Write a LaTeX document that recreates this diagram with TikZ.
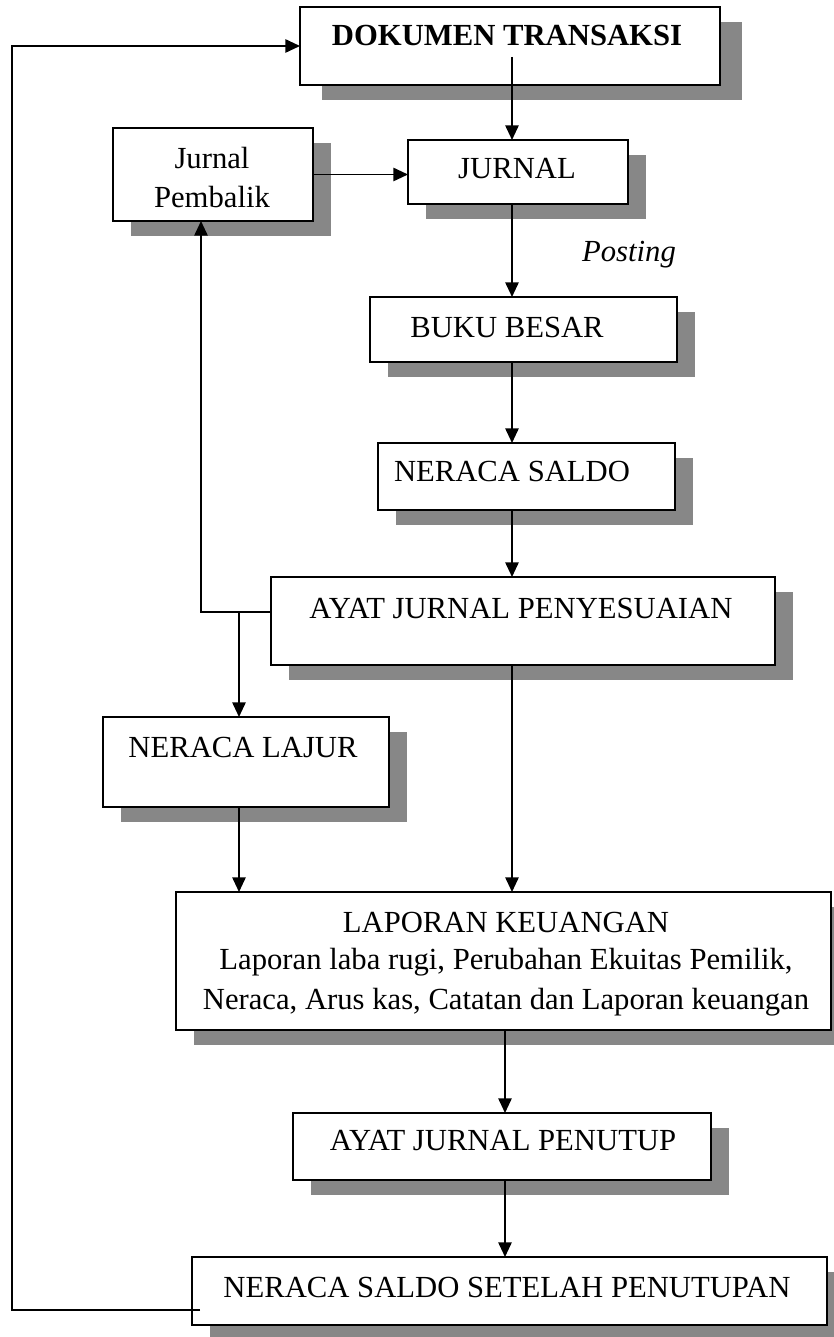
\documentclass[tikz,border=0pt]{standalone}
\usepackage{fontspec}
\setmainfont{Liberation Serif}
\usetikzlibrary{arrows.meta,shadows,calc}

\begin{document}
\begin{tikzpicture}[x=0.75pt,y=-0.75pt,
  box/.style={draw=black, line width=1.4pt, fill=white, anchor=north west,
              inner sep=0pt, outer sep=0pt},
  shade/.style={drop shadow={shadow xshift=13.5pt, shadow yshift=-11.25pt,
              fill=black!47, opacity=1}},
  shadewide/.style={drop shadow={shadow xshift=16.5pt, shadow yshift=-11.25pt,
              fill=black!47, opacity=1}},
  txt/.style={font=\fontsize{23}{30}\selectfont, inner sep=0pt, align=center},
  txtb/.style={font=\fontsize{23}{30}\selectfont\bfseries, inner sep=0pt},
  txti/.style={font=\fontsize{23}{30}\selectfont\itshape, inner sep=0pt},
  link/.style={line width=1.3pt, -{Triangle[length=11pt,width=10pt]}}
]
\useasboundingbox (0,0) rectangle (833,1337);

% boxes (top-left corner, size)
\node[box, shadewide, minimum width=315pt,    minimum height=58.5pt]  (dok)    at (300,7)    {};
\node[box, shade,     minimum width=165pt,    minimum height=48pt]    (jurnal) at (408,140)  {};
\node[box, shade,     minimum width=150pt,    minimum height=69.75pt] (pemb)   at (113,128)  {};
\node[box, shade,     minimum width=230.25pt, minimum height=48.75pt] (buku)   at (370,297)  {};
\node[box, shade,     minimum width=222.75pt, minimum height=50.25pt] (ns)     at (378,443)  {};
\node[box, shade,     minimum width=378pt,    minimum height=66pt]    (ayat)   at (271,577)  {};
\node[box, shade,     minimum width=214.5pt,  minimum height=67.5pt]  (lajur)  at (103,717)  {};
\node[box, shade,     minimum width=491.25pt, minimum height=103.5pt] (lap)    at (176,892)  {};
\node[box, shade,     minimum width=313.5pt,  minimum height=50.25pt] (tutup)  at (293,1113) {};
\node[box, shade,     minimum width=476.25pt, minimum height=51pt]    (nssp)   at (192,1257) {};

% box texts
\node[txtb] (dok-t)    at (507,36)   {DOKUMEN TRANSAKSI};
\node[txt]  (jurnal-t) at (517,169)  {JURNAL};
\node[txt]  (pemb-t1)  at (212,158)  {Jurnal};
\node[txt]  (pemb-t2)  at (212,197)  {Pembalik};
\node[txti] (post)     at (629,255)  {Posting};
\node[txt]  (buku-t)   at (507,327)  {BUKU BESAR};
\node[txt]  (ns-t)     at (512,471)  {NERACA SALDO};
\node[txt]  (ayat-t)   at (521,608)  {AYAT JURNAL PENYESUAIAN};
\node[txt]  (lajur-t)  at (243,747)  {NERACA LAJUR};
\node[txt]  (lap-t1)   at (506,922)  {LAPORAN KEUANGAN};
\node[txt]  (lap-t2)   at (506,962)  {Laporan laba rugi, Perubahan Ekuitas Pemilik,};
\node[txt]  (lap-t3)   at (506,1002) {Neraca, Arus kas, Catatan dan Laporan keuangan};
\node[txt]  (tutup-t)  at (503,1141) {AYAT JURNAL PENUTUP};
\node[txt]  (nssp-t)   at (507,1287) {NERACA SALDO SETELAH PENUTUPAN};

% helper points of the connectors
\coordinate (spine)  at (512,0);
\coordinate (spine2) at (505,0);
\coordinate (dokout) at (512,57);
\coordinate (fb)     at (201,612);
\coordinate (br)     at (239,612);
\coordinate (lp)     at (12,1310);

% main flow
\draw[link] (dokout) -- (dokout |- jurnal.north);
\draw[link] (pemb.east) -- (pemb.east -| jurnal.west);
\draw[link] (jurnal.south -| spine) -- (buku.north -| spine);
\draw[link] (buku.south -| spine) -- (ns.north -| spine);
\draw[link] (ns.south -| spine) -- (ayat.north -| spine);
\draw[link] (ayat.south -| spine) -- (lap.north -| spine);
\draw[link] (lap.south -| spine2) -- (tutup.north -| spine2);
\draw[link] (tutup.south -| spine2) -- (nssp.north -| spine2);

% adjusting entries feed the reversing journal and the worksheet
\draw[link] (ayat.west |- fb) -- (fb) -- (fb |- pemb.south);
\draw[link] (br) -- (br |- lajur.north);
\draw[link] (lajur.south -| br) -- (lap.north -| br);

% closing loop back to the source documents
\draw[link] ([xshift=6pt]nssp.west |- lp) -- (lp) |- (dok.west);
\end{tikzpicture}
\end{document}
